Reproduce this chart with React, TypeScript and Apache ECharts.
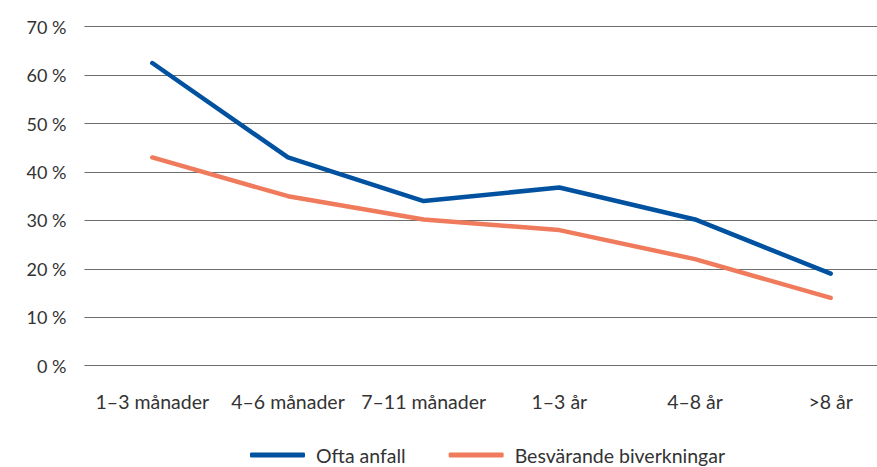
import React, { useEffect, useRef } from "react";
import * as echarts from "echarts";

const categories = ["1–3 månader", "4–6 månader", "7–11 månader", "1–3 år", "4–8 år", ">8 år"];
const oftaAnfall = [62.5, 43, 34, 36.8, 30.2, 19];
const besvarande = [43, 35, 30.2, 28, 22, 14];
const seriesNames = ["Ofta anfall", "Besvärande biverkningar"];

const FONT = "Lato, 'Open Sans', sans-serif";
const TEXT = "#333333";

export default function App() {
  const ref = useRef<HTMLDivElement>(null);
  useEffect(() => {
    if (!ref.current) return;
    const chart = echarts.init(ref.current, undefined, { renderer: "svg" });
    chart.setOption({
      animation: false,
      backgroundColor: "#ffffff",
      textStyle: { fontFamily: FONT },
      grid: [
        // grid for the lines (points span from first to last category)
        { left: 152.3, top: 26.7, right: 46.3, height: 339, containLabel: false },
        // grid for the y axis labels and gridlines
        { left: 84.5, top: 26.7, right: 0, height: 339, containLabel: false },
      ],
      legend: {
        top: 439,
        left: 245,
        itemWidth: 55,
        itemHeight: 5,
        itemGap: 43,
        icon: "roundRect",
        textStyle: {
          fontSize: 19.5,
          lineHeight: 22,
          color: TEXT,
          fontFamily: FONT,
          padding: [0, 0, 0, 6],
        },
        data: seriesNames,
      },
      xAxis: [
        {
          type: "category",
          gridIndex: 0,
          data: categories,
          boundaryGap: false,
          axisLine: { show: false },
          axisTick: { show: false },
          axisLabel: { color: TEXT, fontSize: 19.5, margin: 26, fontFamily: FONT, interval: 0 },
          splitLine: { show: false },
        },
        {
          type: "value",
          gridIndex: 1,
          min: 0,
          max: 1,
          show: false,
        },
      ],
      yAxis: [
        {
          type: "value",
          gridIndex: 0,
          min: 0,
          max: 70,
          interval: 10,
          show: false,
          splitLine: { show: false },
        },
        {
          type: "value",
          gridIndex: 1,
          min: 0,
          max: 70,
          interval: 10,
          axisLine: { show: false },
          axisTick: { show: false },
          axisLabel: {
            color: TEXT,
            fontSize: 18,
            margin: 18,
            fontFamily: FONT,
            formatter: (v: number) => `${v} %`,
          },
          splitLine: { lineStyle: { color: "#6e6e6e", width: 1.2 } },
        },
      ],
      series: [
        {
          name: seriesNames[0],
          type: "line",
          xAxisIndex: 0,
          yAxisIndex: 0,
          data: oftaAnfall,
          symbol: "none",
          lineStyle: { color: "#0052a0", width: 4.5, cap: "round", join: "round" },
          itemStyle: { color: "#0052a0" },
        },
        {
          name: seriesNames[1],
          type: "line",
          xAxisIndex: 0,
          yAxisIndex: 0,
          data: besvarande,
          symbol: "none",
          lineStyle: { color: "#f07a5c", width: 4.5, cap: "round", join: "round" },
          itemStyle: { color: "#f07a5c" },
        },
      ],
    });
    return () => chart.dispose();
  }, []);
  return (
    <div
      ref={ref}
      style={{ position: "fixed", left: 0, top: 0, width: 877, height: 467 }}
    />
  );
}
